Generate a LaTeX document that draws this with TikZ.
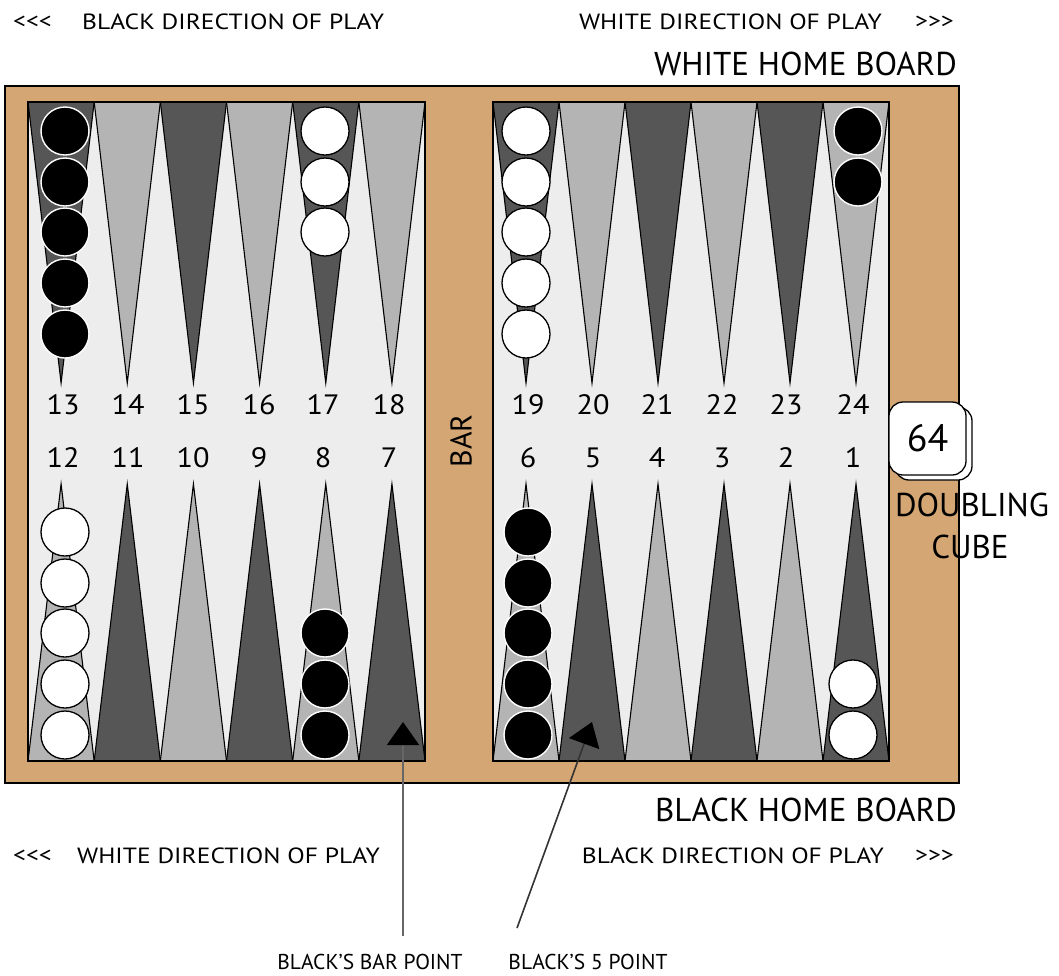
\documentclass[tikz,border=0pt]{standalone}
\usepackage{fontspec}
\setmainfont{PT Sans}
\newfontfamily\widesans[FakeStretch=1.16]{PT Sans}
\newfontfamily\numsans[FakeStretch=1.08]{PT Sans}
\usetikzlibrary{arrows.meta,shadows}
\definecolor{tan}{HTML}{D4A674}
\definecolor{dk}{HTML}{565656}
\definecolor{lt}{HTML}{B4B4B4}
\definecolor{bgc}{HTML}{EDEDED}
\tikzset{
  frame/.style={draw=black,fill=tan,line width=2pt},
  inner/.style={draw=black,fill=bgc,line width=1.6pt},
  darkpt/.style={draw=black,fill=dk,line width=1.1pt,line join=miter},
  lightpt/.style={draw=black,fill=lt,line width=1.1pt,line join=miter},
  bchk/.style={draw=white,fill=black,line width=1.4pt},
  wchk/.style={draw=black,fill=white,line width=1.3pt},
  num/.style={font=\numsans\fontsize{28}{28}\selectfont,inner sep=0pt},
  dir/.style={font=\widesans\fontsize{22}{22}\selectfont,inner sep=0pt},
  home/.style={font=\fontsize{33}{33}\selectfont,inner sep=0pt},
  ann/.style={font=\fontsize{21.5}{21.5}\selectfont,inner sep=0pt},
  cube/.style={draw=black,fill=white,line width=1.3pt,rounded corners=14pt,
    minimum width=77pt,minimum height=73pt,inner sep=0pt,
    font=\fontsize{38}{38}\selectfont,
    copy shadow={shadow xshift=6pt,shadow yshift=-5pt}},
  pointer/.style={line width=1.6pt,draw=black!60,-{Triangle[length=23pt,width=32pt,color=black]}},
}
\begin{document}
\begin{tikzpicture}[x=1pt,y=-1pt]
\fill[white] (0,0) rectangle (1059,975);
\useasboundingbox (0,0) rectangle (1059,975);
% frame
\draw[frame] (5,86) rectangle (959,783);
\draw[inner] (28,102) rectangle (425,761);
\draw[inner] (493,102) rectangle (889,761);
% points
\foreach \x/\w in {28/66.17,493/66}{
  \foreach \i in {0,...,5}{
    \pgfmathsetmacro{\a}{\x+\i*\w}
    \pgfmathsetmacro{\m}{\x+(\i+0.5)*\w}
    \pgfmathsetmacro{\b}{\x+(\i+1)*\w}
    \pgfmathtruncatemacro{\odd}{mod(\i,2)}
    \ifnum\odd=0
      \draw[darkpt] (\a,102) -- (\m,383) -- (\b,102) -- cycle;
      \draw[lightpt] (\a,761) -- (\m,484) -- (\b,761) -- cycle;
    \else
      \draw[lightpt] (\a,102) -- (\m,383) -- (\b,102) -- cycle;
      \draw[darkpt] (\a,761) -- (\m,484) -- (\b,761) -- cycle;
    \fi
  }
}
\draw[draw=black,line width=1.6pt] (28,102) rectangle (425,761);
\draw[draw=black,line width=1.6pt] (493,102) rectangle (889,761);
% checkers
\foreach \y in {131,182,232,283,334} \draw[bchk] (65,\y) circle (24pt);
\foreach \y in {131,182,232} \draw[wchk] (325,\y) circle (24pt);
\foreach \y in {131,182,232,283,334} \draw[wchk] (526,\y) circle (24pt);
\foreach \y in {131,182} \draw[bchk] (858,\y) circle (24pt);
\foreach \y in {735,684,633,583,532} \draw[wchk] (65,\y) circle (24pt);
\foreach \y in {735,684,633} \draw[bchk] (325,\y) circle (24pt);
\foreach \y in {735,684,633,583,532} \draw[bchk] (528,\y) circle (24pt);
\foreach \y in {735,684} \draw[wchk] (853,\y) circle (24pt);
% numbers
\node[num] (p13) at (63,405) {13};
\node[num] (p14) at (128,405) {14};
\node[num] (p15) at (193,405) {15};
\node[num] (p16) at (259,405) {16};
\node[num] (p17) at (323,405) {17};
\node[num] (p18) at (389,405) {18};
\node[num] (p19) at (528,405) {19};
\node[num] (p20) at (593,405) {20};
\node[num] (p21) at (657,405) {21};
\node[num] (p22) at (722,405) {22};
\node[num] (p23) at (786,405) {23};
\node[num] (p24) at (853,405) {24};
\node[num] (p12) at (63,458) {12};
\node[num] (p11) at (128,458) {11};
\node[num] (p10) at (193,458) {10};
\node[num] (p9) at (259,458) {9};
\node[num] (p8) at (323,458) {8};
\node[num] (p7) at (389,458) {7};
\node[num] (p6) at (528,458) {6};
\node[num] (p5) at (593,458) {5};
\node[num] (p4) at (657,458) {4};
\node[num] (p3) at (722,458) {3};
\node[num] (p2) at (786,458) {2};
\node[num] (p1) at (853,458) {1};
\node[rotate=90,inner sep=0pt,font=\fontsize{30}{30}\selectfont] (bar) at (461,441) {BAR};
% doubling cube
\node[cube] (cube) at (927.5,438.5) {64};
\node[inner sep=0pt,font=\fontsize{33}{33}\selectfont] (dbl) at (972,505) {DOUBLING};
\node[inner sep=0pt,font=\fontsize{33}{33}\selectfont] (cbe) at (970,547) {CUBE};
% direction labels
\node[dir,anchor=west] (tl1) at (13,22) {<{}<{}<};
\node[dir,anchor=west] (tl2) at (82,22) {BLACK DIRECTION OF PLAY};
\node[dir,anchor=east] (tr1) at (882,22) {WHITE DIRECTION OF PLAY};
\node[dir,anchor=east] (tr2) at (954,22) {>{}>{}>};
\node[home,anchor=east] (whb) at (957,64) {WHITE HOME BOARD};
\node[home,anchor=east] (bhb) at (957,810) {BLACK HOME BOARD};
\node[dir,anchor=west] (bl1) at (13,856) {<{}<{}<};
\node[dir,anchor=west] (bl2) at (77,856) {WHITE DIRECTION OF PLAY};
\node[dir,anchor=east] (br1) at (884,856) {BLACK DIRECTION OF PLAY};
\node[dir,anchor=east] (br2) at (954,856) {>{}>{}>};
% annotations
\node[ann] (barpoint) at (370,962) {BLACK'S BAR POINT};
\node[ann] (fivepoint) at (588,962) {BLACK'S 5 POINT};
\coordinate (barbot) at (403,936);
\coordinate (bartip) at (403,722);
\coordinate (fivebot) at (517,928);
\coordinate (fivetip) at (592,722);
\draw[pointer] (barbot) -- (bartip);
\draw[pointer,draw=black!80] (fivebot) -- (fivetip);
\end{tikzpicture}
\end{document}
